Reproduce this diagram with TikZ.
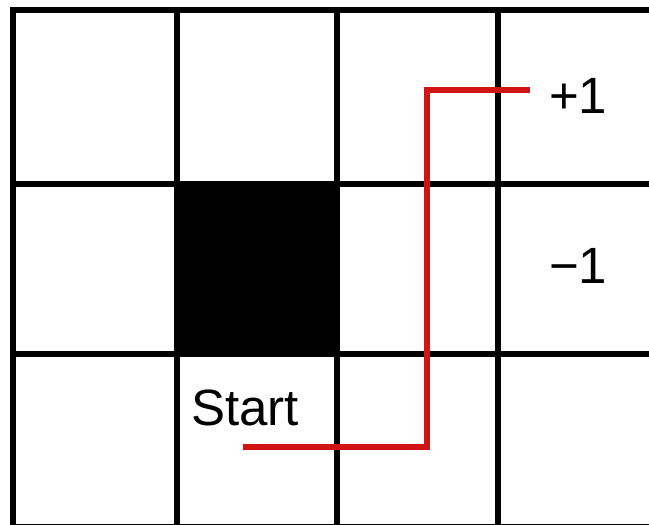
\documentclass[tikz,border=0pt]{standalone}
\usepackage{fontspec}
\setmainfont{Liberation Sans}
\usetikzlibrary{positioning}
\definecolor{RouteRed}{RGB}{208,20,20}
\tikzset{
	gridline/.style={draw=black,line width=5.5pt,line cap=rect},
	wall/.style={fill=black},
	route/.style={draw=RouteRed,line width=6pt,line join=miter},
	reward/.style={inner sep=0pt,anchor=base west,font=\fontsize{51}{51}\selectfont},
}

\begin{document}
\begin{tikzpicture}[x=1pt,y=-1pt]
	\clip (0,0) rectangle (649,525);
	\fill[white] (0,0) rectangle (649,525);
	% blocked cell
	\fill[wall] (177,184) rectangle (337,354);
	% grid
	\foreach \gx in {13,177,337,498}
		\draw[gridline] (\gx,10) -- (\gx,530);
	\foreach \gy in {10,184,354,526.5}
		\draw[gridline] (13,\gy) -- (660,\gy);
	% path taken
	\coordinate (start) at (243,446.5);
	\coordinate (turnA) at (427,446.5);
	\coordinate (turnB) at (427,90);
	\coordinate (goal) at (530,90);
	\draw[route] (start) -- (turnA) -- (turnB) -- (goal);
	% labels
	\node[reward] (plus) at (549,113) {+1};
	\node[reward] (minus) at (549,283) {−1};
	\node[reward] (startlbl) at (191,425) {Start};
\end{tikzpicture}
\end{document}
